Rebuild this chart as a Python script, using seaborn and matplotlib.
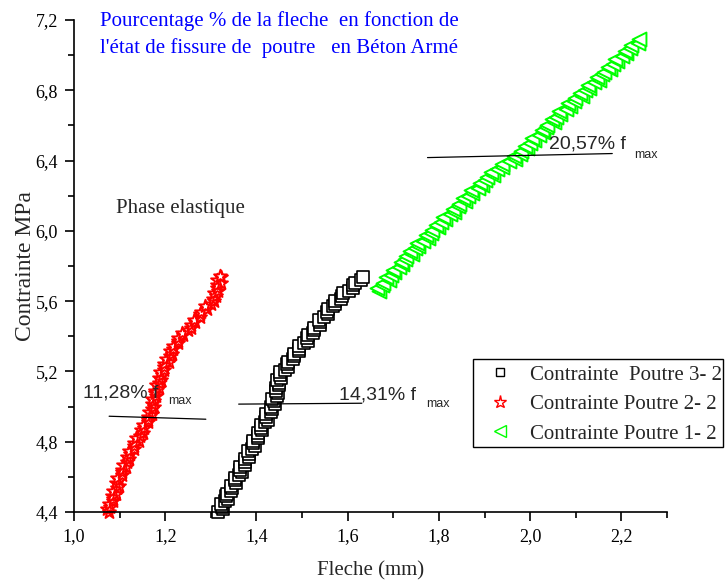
import matplotlib
matplotlib.use("Agg")
import matplotlib.pyplot as plt
from matplotlib.lines import Line2D
from matplotlib.patches import Rectangle
from matplotlib.ticker import FixedLocator, FixedFormatter, MultipleLocator
import pandas as pd
import seaborn as sns

# ---------------- data ----------------
# Contrainte Poutre 3-2 (black squares)
p32_fleche = [1.316, 1.326, 1.324, 1.322, 1.332, 1.338, 1.334, 1.335, 1.345, 1.346,
              1.345, 1.355, 1.354, 1.352, 1.362, 1.368, 1.364, 1.365, 1.375, 1.375,
              1.374, 1.384, 1.383, 1.381, 1.391, 1.396, 1.392, 1.393, 1.403, 1.404,
              1.403, 1.412, 1.411, 1.409, 1.419, 1.425, 1.421, 1.422, 1.432, 1.433,
              1.431, 1.441, 1.438, 1.435, 1.444, 1.448, 1.443, 1.442, 1.450, 1.449,
              1.446, 1.454, 1.452, 1.451, 1.463, 1.470, 1.467, 1.470, 1.481, 1.483,
              1.483, 1.494, 1.494, 1.494, 1.505, 1.513, 1.510, 1.513, 1.524, 1.527,
              1.527, 1.539, 1.539, 1.538, 1.549, 1.557, 1.554, 1.556, 1.568, 1.572,
              1.573, 1.586, 1.588, 1.589, 1.602, 1.612, 1.611, 1.615, 1.629, 1.633]
p32_contrainte = [4.400, 4.415, 4.430, 4.445, 4.460, 4.475, 4.490, 4.505, 4.520, 4.535,
                  4.550, 4.565, 4.580, 4.595, 4.610, 4.625, 4.640, 4.655, 4.670, 4.685,
                  4.700, 4.715, 4.730, 4.745, 4.760, 4.775, 4.790, 4.805, 4.820, 4.835,
                  4.850, 4.865, 4.880, 4.895, 4.910, 4.925, 4.940, 4.955, 4.970, 4.985,
                  5.000, 5.015, 5.030, 5.045, 5.060, 5.075, 5.090, 5.105, 5.120, 5.135,
                  5.150, 5.165, 5.180, 5.195, 5.210, 5.225, 5.240, 5.255, 5.270, 5.285,
                  5.300, 5.315, 5.330, 5.345, 5.360, 5.375, 5.390, 5.405, 5.420, 5.435,
                  5.450, 5.465, 5.480, 5.495, 5.510, 5.525, 5.540, 5.555, 5.570, 5.585,
                  5.600, 5.615, 5.630, 5.645, 5.660, 5.675, 5.690, 5.705, 5.720, 5.735]

# Contrainte Poutre 2-2 (red stars)
p22_fleche = [1.077, 1.073, 1.080, 1.076, 1.086, 1.085, 1.084, 1.093, 1.086, 1.094,
              1.098, 1.092, 1.099, 1.095, 1.105, 1.105, 1.105, 1.114, 1.108, 1.116,
              1.120, 1.116, 1.123, 1.120, 1.131, 1.131, 1.132, 1.142, 1.136, 1.145,
              1.151, 1.147, 1.154, 1.152, 1.163, 1.162, 1.162, 1.171, 1.164, 1.172,
              1.176, 1.170, 1.175, 1.170, 1.180, 1.178, 1.178, 1.187, 1.179, 1.187,
              1.191, 1.186, 1.192, 1.188, 1.198, 1.198, 1.198, 1.208, 1.202, 1.210,
              1.215, 1.211, 1.218, 1.216, 1.227, 1.228, 1.229, 1.240, 1.236, 1.249,
              1.257, 1.257, 1.265, 1.264, 1.276, 1.277, 1.279, 1.291, 1.288, 1.301,
              1.306, 1.304, 1.311, 1.306, 1.315, 1.314, 1.313, 1.322, 1.314, 1.322,
              1.321]
p22_contrainte = [4.400, 4.415, 4.430, 4.445, 4.460, 4.475, 4.490, 4.505, 4.520, 4.535,
                  4.550, 4.565, 4.580, 4.595, 4.610, 4.625, 4.640, 4.655, 4.670, 4.685,
                  4.700, 4.715, 4.730, 4.745, 4.760, 4.775, 4.790, 4.805, 4.820, 4.835,
                  4.850, 4.865, 4.880, 4.895, 4.910, 4.925, 4.940, 4.955, 4.970, 4.985,
                  5.000, 5.015, 5.030, 5.045, 5.060, 5.075, 5.090, 5.105, 5.120, 5.135,
                  5.150, 5.165, 5.180, 5.195, 5.210, 5.225, 5.240, 5.255, 5.270, 5.285,
                  5.300, 5.315, 5.330, 5.345, 5.360, 5.375, 5.390, 5.405, 5.420, 5.435,
                  5.450, 5.465, 5.480, 5.495, 5.510, 5.525, 5.540, 5.555, 5.570, 5.585,
                  5.600, 5.615, 5.630, 5.645, 5.660, 5.675, 5.690, 5.705, 5.720, 5.735,
                  5.745]

# Contrainte Poutre 1-2 (green triangles)
p12_fleche = [1.669, 1.665, 1.675, 1.677, 1.690, 1.684, 1.694, 1.702, 1.699, 1.712,
              1.720, 1.716, 1.726, 1.728, 1.741, 1.736, 1.747, 1.755, 1.752, 1.766,
              1.775, 1.771, 1.782, 1.785, 1.799, 1.793, 1.804, 1.813, 1.810, 1.824,
              1.833, 1.830, 1.841, 1.844, 1.858, 1.853, 1.864, 1.873, 1.871, 1.885,
              1.894, 1.891, 1.902, 1.905, 1.919, 1.915, 1.928, 1.939, 1.938, 1.954,
              1.966, 1.965, 1.978, 1.981, 1.994, 1.989, 2.000, 2.009, 2.005, 2.019,
              2.028, 2.025, 2.035, 2.038, 2.052, 2.047, 2.057, 2.066, 2.063, 2.078,
              2.087, 2.084, 2.096, 2.099, 2.113, 2.109, 2.120, 2.129, 2.127, 2.141,
              2.150, 2.147, 2.158, 2.161, 2.175, 2.170, 2.181, 2.190, 2.187, 2.201,
              2.210, 2.207, 2.219, 2.222, 2.236, 2.239]
p12_contrainte = [5.660, 5.675, 5.690, 5.705, 5.720, 5.735, 5.750, 5.765, 5.780, 5.795,
                  5.810, 5.825, 5.840, 5.855, 5.870, 5.885, 5.900, 5.915, 5.930, 5.945,
                  5.960, 5.975, 5.990, 6.005, 6.020, 6.035, 6.050, 6.065, 6.080, 6.095,
                  6.110, 6.125, 6.140, 6.155, 6.170, 6.185, 6.200, 6.215, 6.230, 6.245,
                  6.260, 6.275, 6.290, 6.305, 6.320, 6.335, 6.350, 6.365, 6.380, 6.395,
                  6.410, 6.425, 6.440, 6.455, 6.470, 6.485, 6.500, 6.515, 6.530, 6.545,
                  6.560, 6.575, 6.590, 6.605, 6.620, 6.635, 6.650, 6.665, 6.680, 6.695,
                  6.710, 6.725, 6.740, 6.755, 6.770, 6.785, 6.800, 6.815, 6.830, 6.845,
                  6.860, 6.875, 6.890, 6.905, 6.920, 6.935, 6.950, 6.965, 6.980, 6.995,
                  7.010, 7.025, 7.040, 7.055, 7.070, 7.090]

series_labels = ["Contrainte  Poutre 3- 2", "Contrainte Poutre 2- 2", "Contrainte Poutre 1- 2"]
series_colors = ["#000000", "#ff0000", "#00ff00"]
series_markers = ["s", "*", "<"]

x_ticks = [1.0, 1.2, 1.4, 1.6, 1.8, 2.0, 2.2]
x_tick_labels = ["1,0", "1,2", "1,4", "1,6", "1,8", "2,0", "2,2"]
y_ticks = [4.4, 4.8, 5.2, 5.6, 6.0, 6.4, 6.8, 7.2]
y_tick_labels = ["4,4", "4,8", "5,2", "5,6", "6,0", "6,4", "6,8", "7,2"]

# annotation marks: (x0, y0, x1, y1), text position, subscript position
annot_lines = [(1.077, 4.945, 1.289, 4.928),
               (1.361, 5.014, 1.631, 5.019),
               (1.775, 6.417, 2.180, 6.440)]
annot_texts = ["11,28% f", "14,31% f", "20,57% f"]
annot_text_pos = [(1.020, 5.053), (1.582, 5.042), (2.042, 6.468)]
annot_sub_pos = [(1.206, 5.014), (1.772, 4.997), (2.229, 6.417)]

# ---------------- plot ----------------
sns.set_style("ticks")
plt.rcParams["font.family"] = ["Liberation Serif", "DejaVu Serif"]

fig = plt.figure(figsize=(7.26, 5.86), dpi=100)
ax = fig.add_axes([74 / 726, 74 / 586, (667 - 74) / 726, (512 - 20) / 586])

frames = [
    pd.DataFrame({"Fleche": p32_fleche, "Contrainte": p32_contrainte}),
    pd.DataFrame({"Fleche": p22_fleche, "Contrainte": p22_contrainte}),
    pd.DataFrame({"Fleche": p12_fleche, "Contrainte": p12_contrainte}),
]
sizes = [64, 95, 100]
widths = [1.2, 1.4, 1.4]
for df, col, mk, sz, lw in zip(frames, series_colors, series_markers, sizes, widths):
    sns.scatterplot(data=df, x="Fleche", y="Contrainte", ax=ax, marker=mk, s=sz,
                    facecolor="white", edgecolor=col, linewidth=lw, legend=False,
                    clip_on=False, zorder=3)

ax.set_xlim(1.0, 2.3)
ax.set_ylim(4.4, 7.2)
ax.xaxis.set_major_locator(FixedLocator(x_ticks))
ax.xaxis.set_major_formatter(FixedFormatter(x_tick_labels))
ax.yaxis.set_major_locator(FixedLocator(y_ticks))
ax.yaxis.set_major_formatter(FixedFormatter(y_tick_labels))
ax.xaxis.set_minor_locator(MultipleLocator(0.1))
ax.yaxis.set_minor_locator(MultipleLocator(0.2))

for s in ["top", "right"]:
    ax.spines[s].set_visible(False)
for s in ["left", "bottom"]:
    ax.spines[s].set_linewidth(1.2)
    ax.spines[s].set_color("black")
    ax.spines[s].set_zorder(6)
ax.tick_params(which="major", direction="out", length=6.5, width=1.2, color="black",
               labelsize=13, pad=5, labelcolor="black")
ax.tick_params(which="minor", direction="out", length=4, width=1.2, color="black")

ax.set_xlabel("Fleche (mm)", fontsize=15, labelpad=12)
ax.set_ylabel("Contrainte MPa", fontsize=17, labelpad=0)

# annotations
for (x0, y0, x1, y1), txt, (tx, ty), (sx, sy) in zip(annot_lines, annot_texts,
                                                       annot_text_pos, annot_sub_pos):
    ax.plot([x0, x1], [y0, y1], color="black", lw=0.9, zorder=4)
    ax.text(tx, ty, txt, fontsize=14, family=["Liberation Sans", "DejaVu Sans"],
            va="baseline", ha="left", zorder=5)
    ax.text(sx, sy, "max", fontsize=9, family=["Liberation Sans", "DejaVu Sans"],
            va="baseline", ha="left", zorder=5)

fig.text(116 / 726, 1 - 213 / 586, "Phase elastique", fontsize=15,
         va="baseline", ha="left")

fig.text(100 / 726, 1 - 26 / 586, "Pourcentage % de la fleche  en fonction de",
         color="#0000ff", fontsize=15, va="baseline", ha="left")
fig.text(100 / 726, 1 - 53 / 586, "l'état de fissure de  poutre   en Béton Armé",
         color="#0000ff", fontsize=15, va="baseline", ha="left")

# legend
handles = [Line2D([], [], linestyle="none", marker=m, markersize=ms,
                  markerfacecolor="white", markeredgecolor=c, markeredgewidth=1.0)
           for m, c, ms in zip(series_markers, series_colors, [6, 9.5, 8])]
leg = fig.legend(handles, series_labels, loc="upper left",
                 bbox_to_anchor=(473 / 726, 1 - 365 / 586), bbox_transform=fig.transFigure,
                 fontsize=15, frameon=False, borderpad=0,
                 handlelength=2.6, handletextpad=0.15, labelspacing=0.48,
                 borderaxespad=0)
fig.patches.append(Rectangle((473 / 726, 1 - 447 / 586), 250 / 726, 88 / 586,
                             transform=fig.transFigure, fill=False,
                             edgecolor="black", linewidth=1.0))

fig.savefig("out.png", dpi=100)
